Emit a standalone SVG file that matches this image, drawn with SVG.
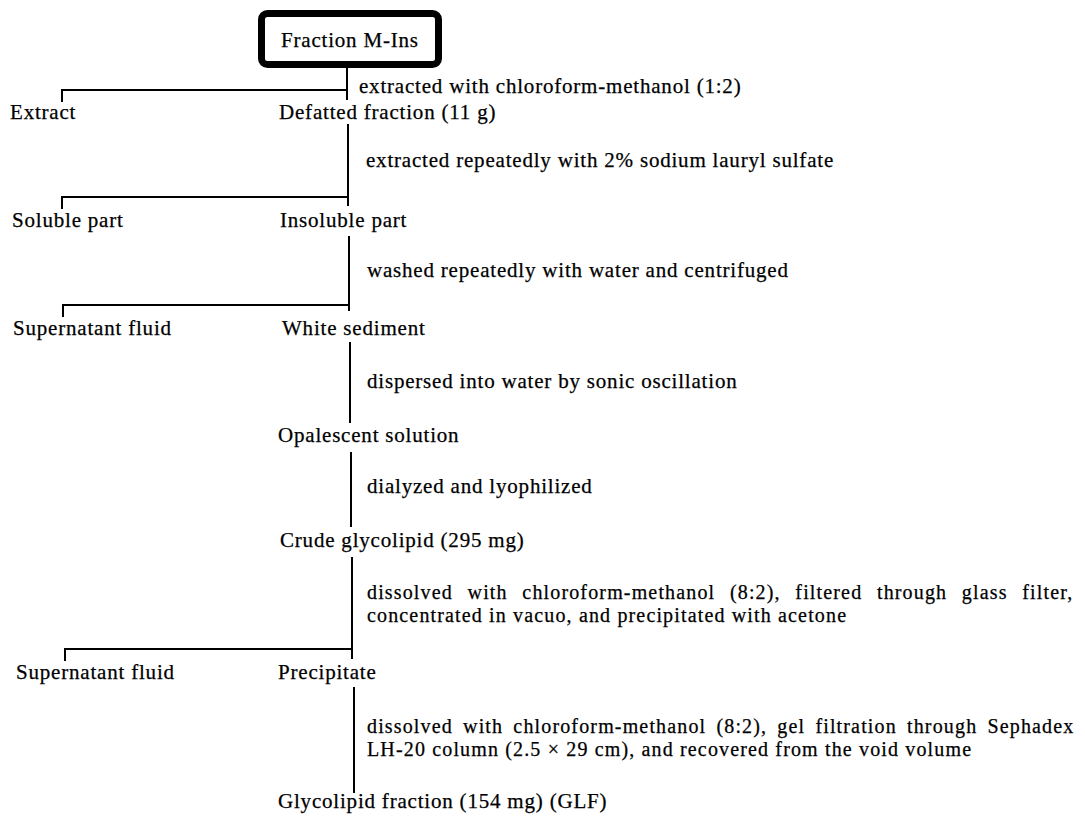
<svg xmlns="http://www.w3.org/2000/svg" width="1085" height="816" viewBox="0 0 1085 816">
<style>
text{font-family:"Liberation Serif","Times New Roman",serif;font-size:21px;letter-spacing:0.8px;fill:#000;stroke:#000;stroke-width:0.25}
text.p{font-size:20px;letter-spacing:1.15px}
.ln{stroke:#000;stroke-width:2;fill:none}
</style>
<rect width="1085" height="816" fill="#fff"/>
<g id="connectors" class="ln">
<path d="M347 68V100M347 90H62V102"/>
<path d="M348 124V206M348 197H62V209"/>
<path d="M349 236V311M349 305H63V317"/>
<path d="M350 342V423"/>
<path d="M351 452V527"/>
<path d="M352 557V659M352 649H65V661"/>
<path d="M354 687V793"/>
</g>
<g id="n-start"><rect x="261.5" y="13.5" width="177" height="51" rx="6" fill="#fff" stroke="#000" stroke-width="7"/><text x="281" y="47">Fraction M-Ins</text></g>
<g id="s1"><text x="359" y="93">extracted with chloroform-methanol (1:2)</text></g>
<g id="n-extract"><text x="10" y="119">Extract</text></g>
<g id="n-defatted"><text x="279" y="119">Defatted fraction (11 g)</text></g>
<g id="s2"><text x="366" y="167">extracted repeatedly with 2% sodium lauryl sulfate</text></g>
<g id="n-soluble"><text x="12" y="227">Soluble part</text></g>
<g id="n-insoluble"><text x="280" y="227">Insoluble part</text></g>
<g id="s3"><text x="367" y="277">washed repeatedly with water and centrifuged</text></g>
<g id="n-super1"><text x="13" y="335">Supernatant fluid</text></g>
<g id="n-white"><text x="282" y="335">White sediment</text></g>
<g id="s4"><text x="367" y="388">dispersed into water by sonic oscillation</text></g>
<g id="n-opal"><text x="278" y="442">Opalescent solution</text></g>
<g id="s5"><text x="367" y="493">dialyzed and lyophilized</text></g>
<g id="n-crude"><text x="280" y="547">Crude glycolipid (295 mg)</text></g>
<g id="s6"><text class="p" x="367" y="599" word-spacing="8.5">dissolved with chloroform-methanol (8:2), filtered through glass filter,</text><text class="p" x="367" y="622">concentrated in vacuo, and precipitated with acetone</text></g>
<g id="n-super2"><text x="16" y="679">Supernatant fluid</text></g>
<g id="n-precip"><text x="278" y="679">Precipitate</text></g>
<g id="s7"><text class="p" x="367" y="733" word-spacing="4">dissolved with chloroform-methanol (8:2), gel filtration through Sephadex</text><text class="p" x="367" y="756">LH-20 column (2.5 × 29 cm), and recovered from the void volume</text></g>
<g id="n-glf"><text x="278" y="808" letter-spacing="1.2">Glycolipid fraction (154 mg) (GLF)</text></g>
</svg>
